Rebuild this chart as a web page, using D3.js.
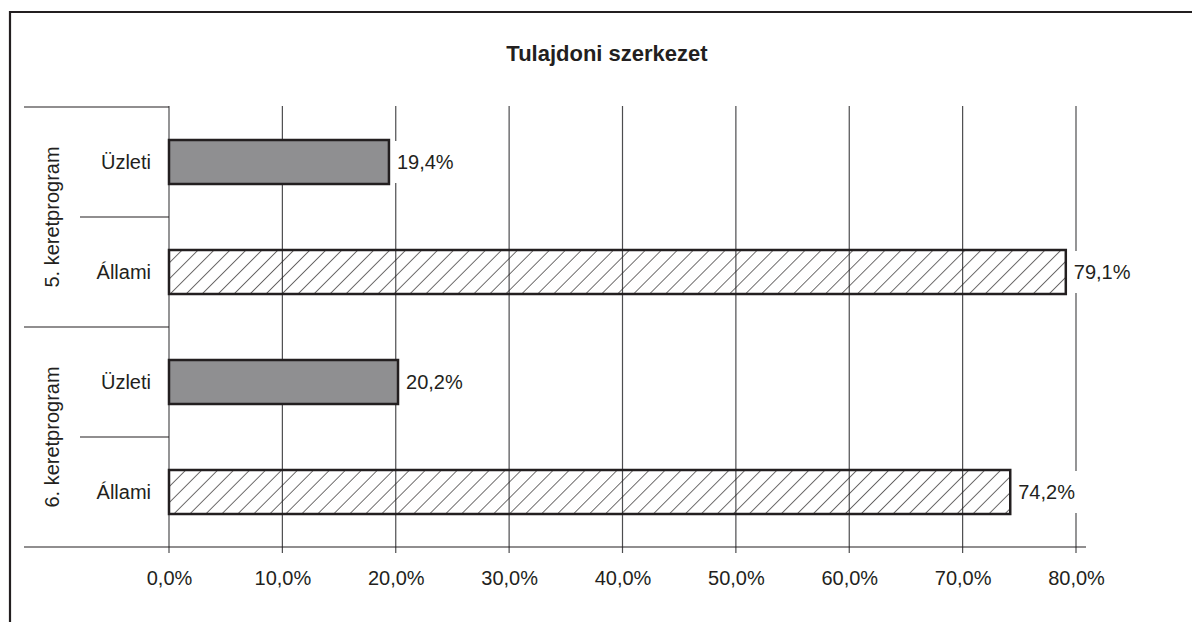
<!DOCTYPE html>
<html>
<head>
<meta charset="utf-8">
<script src="https://cdn.jsdelivr.net/npm/d3@7"></script>
<style>
  body { margin: 0; background: #fff; }
  text { font-family: "Liberation Sans", Arial, sans-serif; fill: #231f20; }
</style>
</head>
<body>
<div id="chart"></div>
<script>
// data
var title = "Tulajdoni szerkezet";
var groups = ["5. keretprogram", "6. keretprogram"];
var categories = ["Üzleti", "Állami"];
var values5 = [19.4, 79.1];
var values6 = [20.2, 74.2];
var ticks = [0, 10, 20, 30, 40, 50, 60, 70, 80];

// setup
var width = 1192,
    height = 622,
    ink = "#231f20";

var rows = [];
[values5, values6].forEach(function (vals, gi) {
    vals.forEach(function (v, ci) {
        rows.push({ key: gi + "-" + ci, group: groups[gi], cat: categories[ci], value: v, ci: ci });
    });
});

var xScale = d3.scaleLinear()
    .domain([0, 80])
    .range([169, 1076]);

var yScale = d3.scaleBand()
    .domain(rows.map(function (d) { return d.key; }))
    .range([107, 547])
    .paddingInner(0.6)
    .paddingOuter(0.3);

var svg = d3.select("#chart").append("svg")
    .attr("width", width)
    .attr("height", height);

// hatch pattern for the "Állami" bars
var defs = svg.append("defs");
defs.append("pattern")
    .attr("id", "hatch")
    .attr("patternUnits", "userSpaceOnUse")
    .attr("width", 11.3)
    .attr("height", 11.3)
    .attr("patternTransform", "rotate(45)")
    .append("line")
    .attr("x1", 0).attr("y1", 0)
    .attr("x2", 0).attr("y2", 11.3)
    .attr("stroke", ink)
    .attr("stroke-width", 1.3);

// outer frame (only top and left visible)
svg.append("path")
    .attr("d", "M10,622V12H1192")
    .attr("fill", "none")
    .attr("stroke", ink)
    .attr("stroke-width", 2.2);

// title
svg.append("text")
    .attr("x", 607)
    .attr("y", 61)
    .attr("text-anchor", "middle")
    .style("font-weight", "bold")
    .style("font-size", "22px")
    .text(title);

// vertical grid
svg.append("g")
    .selectAll("line")
    .data(ticks)
    .join("line")
    .attr("x1", function (d) { return xScale(d); })
    .attr("x2", function (d) { return xScale(d); })
    .attr("y1", 106)
    .attr("y2", 553)
    .attr("stroke", "#4d4d4f")
    .attr("stroke-width", 1.2);

// x axis
var xAxis = svg.append("g")
    .attr("transform", "translate(0,547)")
    .call(d3.axisBottom(xScale)
        .tickValues(ticks)
        .tickSize(0)
        .tickPadding(24)
        .tickFormat(function (d) { return d.toFixed(1).replace(".", ",") + "%"; }));
xAxis.select(".domain").remove();
xAxis.selectAll("text")
    .style("font-size", "20px")
    .attr("fill", ink);

svg.append("line")
    .attr("x1", 24).attr("x2", 1086)
    .attr("y1", 547).attr("y2", 547)
    .attr("stroke", ink)
    .attr("stroke-width", 1.2);

// category separators
var step = yScale.step();
var y0 = yScale.range()[0];
var seps = [];
rows.forEach(function (d, i) {
    if (i > 0) seps.push({ y: y0 + i * step, long: i % 2 === 0 });
});
seps.unshift({ y: y0, long: true });
svg.append("g")
    .selectAll("line")
    .data(seps)
    .join("line")
    .attr("x1", function (d) { return d.long ? 24 : 80; })
    .attr("x2", 169)
    .attr("y1", function (d) { return d.y; })
    .attr("y2", function (d) { return d.y; })
    .attr("stroke", ink)
    .attr("stroke-width", 1.2);

// group labels
groups.forEach(function (g, gi) {
    var cy = y0 + step * (gi * 2 + 1);
    svg.append("text")
        .attr("transform", "translate(59," + cy + ") rotate(-90)")
        .attr("text-anchor", "middle")
        .style("font-size", "20px")
        .text(g);
});

// category labels
svg.append("g")
    .selectAll("text")
    .data(rows)
    .join("text")
    .attr("x", 151)
    .attr("y", function (d) { return yScale(d.key) + yScale.bandwidth() / 2 + 7; })
    .attr("text-anchor", "end")
    .style("font-size", "20px")
    .text(function (d) { return d.cat; });

// bars
svg.append("g")
    .selectAll("rect")
    .data(rows)
    .join("rect")
    .attr("x", xScale(0))
    .attr("y", function (d) { return yScale(d.key); })
    .attr("width", function (d) { return xScale(d.value) - xScale(0); })
    .attr("height", yScale.bandwidth())
    .attr("fill", function (d) { return d.ci === 0 ? "#8f8f91" : "url(#hatch)"; })
    .attr("stroke", ink)
    .attr("stroke-width", 2.5);

// value labels with white backing
var vl = svg.append("g")
    .selectAll("g")
    .data(rows)
    .join("g")
    .attr("transform", function (d) {
        return "translate(" + xScale(d.value) + "," + (yScale(d.key) + yScale.bandwidth() / 2) + ")";
    });
vl.append("rect")
    .attr("x", 3)
    .attr("y", -21)
    .attr("width", 64)
    .attr("height", 42)
    .attr("fill", "#fff");
vl.append("text")
    .attr("x", 8)
    .attr("y", 7)
    .style("font-size", "20px")
    .text(function (d) { return d.value.toFixed(1).replace(".", ",") + "%"; });
</script>
</body>
</html>
